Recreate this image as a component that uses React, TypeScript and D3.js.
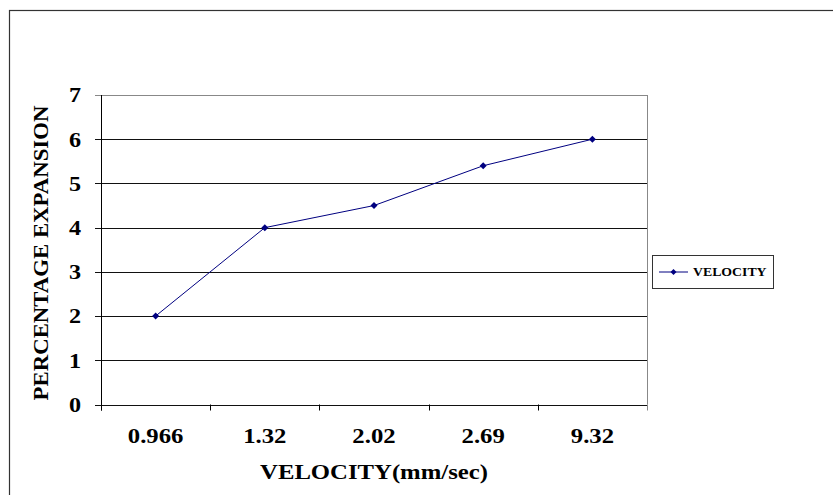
import * as d3 from 'd3';

const categories = ['0.966', '1.32', '2.02', '2.69', '9.32'];
const expansion = [2, 4, 4.5, 5.4, 6];
const yTicks = [0, 1, 2, 3, 4, 5, 6, 7];
const seriesName = 'VELOCITY';

const width = 833;
const height = 495;
const plot = { left: 101, right: 647, top: 95, bottom: 404.5 };
const font = '"Liberation Serif", "Times New Roman", serif';
const stretch = 1.15;

export default function App() {
  const x = d3.scaleBand<string>().domain(categories).range([plot.left, plot.right]);
  const y = d3.scaleLinear().domain([0, 7]).range([plot.bottom, plot.top]);
  const cx = (c: string) => x(c)! + x.bandwidth() / 2;

  const line = d3
    .line<number>()
    .x((_, i) => cx(categories[i]))
    .y(d => y(d));

  const diamond = (px: number, py: number, r = 3.5) =>
    `M${px},${py - r}L${px + r},${py}L${px},${py + r}L${px - r},${py}Z`;

  const bounds = [...categories.map(c => x(c)!), plot.right];

  return (
    <svg
      width={width}
      height={height}
      style={{ position: 'absolute', left: 0, top: 0, background: '#fff' }}
    >
      <rect x={9.5} y={10.5} width={840} height={500} fill="#fff" stroke="#333" strokeWidth={1.2} />

      {/* gridlines */}
      {yTicks.map(t => (
        <line
          key={t}
          x1={plot.left - 6}
          x2={plot.right}
          y1={Math.round(y(t)) + 0.5}
          y2={Math.round(y(t)) + 0.5}
          stroke={t === 7 ? '#888' : '#111'}
          strokeWidth={1}
        />
      ))}
      {/* y axis */}
      <line x1={plot.left + 0.5} x2={plot.left + 0.5} y1={plot.top} y2={plot.bottom + 6} stroke="#000" />
      {/* right frame */}
      <line x1={plot.right + 0.5} x2={plot.right + 0.5} y1={plot.top} y2={plot.bottom} stroke="#888" />
      {/* x ticks */}
      {bounds.map((b, i) => (
        <line
          key={i}
          x1={Math.round(b) + 0.5}
          x2={Math.round(b) + 0.5}
          y1={plot.bottom}
          y2={plot.bottom + 6}
          stroke={i === bounds.length - 1 ? '#888' : '#000'}
        />
      ))}

      {yTicks.map(t => (
        <text
          key={t}
          transform={`translate(81,${y(t)}) scale(${stretch},1)`}
          dy="0.35em"
          textAnchor="end"
          fontFamily={font}
          fontWeight="bold"
          fontSize={21}
        >
          {t}
        </text>
      ))}

      {categories.map(c => (
        <text
          key={c}
          transform={`translate(${cx(c)},443) scale(${stretch},1)`}
          textAnchor="middle"
          fontFamily={font}
          fontWeight="bold"
          fontSize={21.5}
        >
          {c}
        </text>
      ))}

      <text
        transform={`translate(374,479) scale(${stretch},1)`}
        textAnchor="middle"
        fontFamily={font}
        fontWeight="bold"
        fontSize={21.5}
      >
        VELOCITY(mm/sec)
      </text>
      <text
        transform={`translate(48,253) rotate(-90) scale(1.14,1)`}
        textAnchor="middle"
        fontFamily={font}
        fontWeight="bold"
        fontSize={20}
      >
        PERCENTAGE EXPANSION
      </text>

      <path d={line(expansion)!} fill="none" stroke="#000080" strokeWidth={1} />
      {expansion.map((v, i) => (
        <path key={i} d={diamond(cx(categories[i]), y(v))} fill="#000080" />
      ))}

      {/* legend */}
      <rect x={652.5} y={255.5} width={121} height={33} fill="#fff" stroke="#333" strokeWidth={1} />
      <line x1={659} x2={688} y1={272} y2={272} stroke="#000080" />
      <path d={diamond(673.5, 272, 3)} fill="#000080" />
      <text
        transform="translate(693,276) scale(1.2,1)"
        fontFamily={font}
        fontWeight="bold"
        fontSize={11.5}
      >
        {seriesName}
      </text>
    </svg>
  );
}
